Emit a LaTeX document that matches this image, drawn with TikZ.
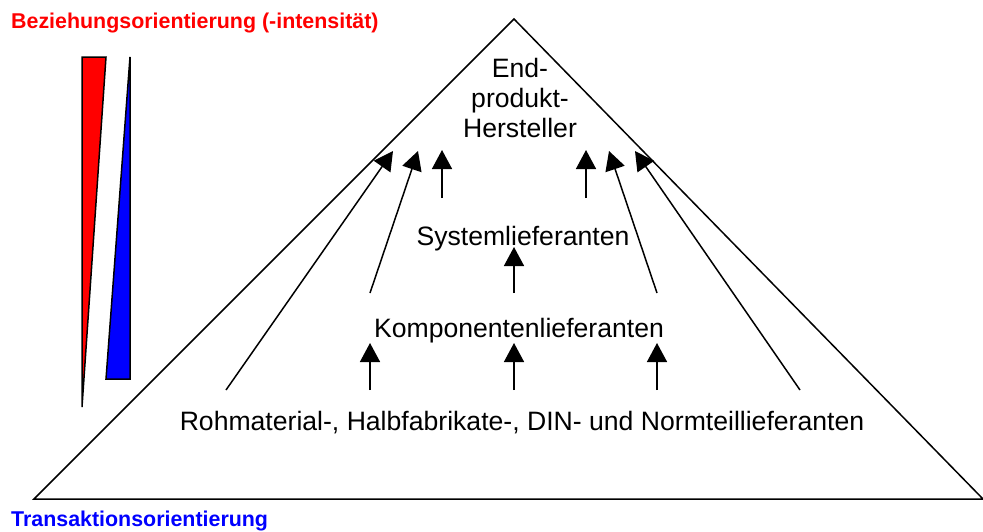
\documentclass[tikz,border=0pt]{standalone}
\usepackage{fontspec}
\setmainfont{Liberation Sans}
\usetikzlibrary{arrows.meta}

\tikzset{
    lbl/.style={anchor=base, inner sep=0pt, font=\fontsize{26.6}{30}\selectfont},
    kopf/.style={anchor=base west, inner sep=0pt, font=\fontsize{21.4}{25}\selectfont\bfseries},
    flow/.style={line width=1.5pt, -{Triangle[width=20pt,length=19pt]}},
    rim/.style={line width=1.5pt, line join=miter},
    keil/.style={line width=1.5pt, line join=miter}
}

\begin{document}
\begin{tikzpicture}[x=1pt,y=-1pt]
    \useasboundingbox (0,0) rectangle (983,531);

    % Pyramide
    \draw[rim] (34,499) -- (514,19) -- (983,499) -- cycle;

    % Keile links
    \draw[keil, fill=red]  (82,57) -- (106,57) -- (82,407) -- cycle;
    \draw[keil, fill=blue] (130,57) -- (130,379) -- (106,379) -- cycle;

    \node[kopf, text=red]  (bez) at (11,28)  {Beziehungsorientierung (-intensität)};
    \node[kopf, text=blue] (tra) at (11,526) {Transaktionsorientierung};

    % Stufen
    \node[lbl] (end1) at (520,77)  {End-};
    \node[lbl] (end2) at (520,107) {produkt-};
    \node[lbl] (end3) at (520,137) {Hersteller};
    \node[lbl] (sys)  at (523,245) {Systemlieferanten};
    \node[lbl] (komp) at (519,337) {Komponentenlieferanten};
    \node[lbl] (roh)  at (522,430) {Rohmaterial-, Halbfabrikate-, DIN- und Normteillieferanten};

    % Pfeilenden
    \coordinate (a0) at (226,390); \coordinate (a1) at (393,151);
    \coordinate (b0) at (370,293); \coordinate (b1) at (418,151);
    \coordinate (c0) at (442,198); \coordinate (c1) at (442,150);
    \coordinate (d0) at (586,198); \coordinate (d1) at (586,150);
    \coordinate (e0) at (657,293); \coordinate (e1) at (609,151);
    \coordinate (f0) at (800,390); \coordinate (f1) at (635,151);
    \coordinate (s0) at (514,293); \coordinate (s1) at (514,247);
    \coordinate (k0) at (370,390); \coordinate (k1) at (370,343);
    \coordinate (m0) at (514,390); \coordinate (m1) at (514,343);
    \coordinate (n0) at (657,390); \coordinate (n1) at (657,343);

    \foreach \p in {a,b,c,d,e,f,s,k,m,n}
        \draw[flow] (\p0) -- (\p1);
\end{tikzpicture}
\end{document}
